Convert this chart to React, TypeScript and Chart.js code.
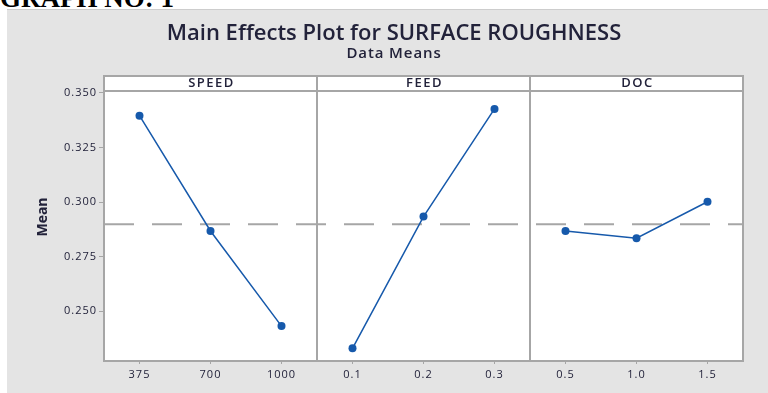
import React, { useEffect, useRef } from "react";
import { Chart, registerables } from "chart.js";

Chart.register(...registerables);

const PAGE_HEADING = "GRAPH NO: 1";
const TITLE = "Main Effects Plot for SURFACE ROUGHNESS";
const SUBTITLE = "Data Means";
const Y_TITLE = "Mean";
const FACTORS = ["SPEED", "FEED", "DOC"];
const SPEED_LEVELS = ["375", "700", "1000"];
const FEED_LEVELS = ["0.1", "0.2", "0.3"];
const DOC_LEVELS = ["0.5", "1.0", "1.5"];
const SPEED_MEANS = [0.3396, 0.2867, 0.2431];
const FEED_MEANS = [0.2329, 0.2933, 0.3427];
const DOC_MEANS = [0.2867, 0.2834, 0.3001];
const Y_TICKS = [0.25, 0.275, 0.3, 0.325, 0.35];
const Y_MIN = 0.2271;
const Y_MAX = 0.3509;

const LEVEL_GROUPS = [SPEED_LEVELS, FEED_LEVELS, DOC_LEVELS];
const MEAN_GROUPS = [SPEED_MEANS, FEED_MEANS, DOC_MEANS];
const X_LABELS = LEVEL_GROUPS.flat();
const ALL_MEANS = MEAN_GROUPS.flat();
const GRAND_MEAN = ALL_MEANS.reduce((a, b) => a + b, 0) / ALL_MEANS.length;

const BLUE = "#1659ab";
const FRAME = "#a6a6a6";
const TEXT = "#22223a";
const FONT = "'Open Sans', 'DejaVu Sans', sans-serif";

const panelPlugin = {
  id: "panels",
  beforeDraw(chart: any) {
    const { ctx, chartArea } = chart;
    const { left, right, top, bottom } = chartArea;
    ctx.fillStyle = "#ffffff";
    ctx.fillRect(left, top - 15, right - left, bottom - top + 15);
    (ctx as any).letterSpacing = "1px";
  },
  beforeDatasetsDraw(chart: any) {
    const { ctx, chartArea, scales } = chart;
    const { left, right, top, bottom } = chartArea;
    const headTop = top - 15;
    ctx.save();
    ctx.strokeStyle = FRAME;
    ctx.lineWidth = 2;
    ctx.strokeRect(left, headTop, right - left, bottom - headTop);
    ctx.beginPath();
    ctx.moveTo(left, top);
    ctx.lineTo(right, top);
    for (let g = 1; g < LEVEL_GROUPS.length; g++) {
      const x = Math.round(scales.x.getPixelForValue(g * 3 - 0.5));
      ctx.moveTo(x, headTop);
      ctx.lineTo(x, bottom);
    }
    ctx.stroke();
    ctx.restore();
  },
  afterDraw(chart: any) {
    const { ctx, chartArea, scales } = chart;
    const { top } = chartArea;
    ctx.save();
    ctx.fillStyle = TEXT;
    ctx.textAlign = "center";
    ctx.textBaseline = "middle";
    (ctx as any).letterSpacing = "0px";
    ctx.font = `600 22px ${FONT}`;
    ctx.fillText(TITLE, 387, 24);
    ctx.font = `600 15px ${FONT}`;
    (ctx as any).letterSpacing = "0.9px";
    ctx.fillText(SUBTITLE, 387, 44);
    ctx.font = `600 13px ${FONT}`;
    (ctx as any).letterSpacing = "1.5px";
    FACTORS.forEach((f, g) => {
      const x0 = scales.x.getPixelForValue(g * 3 - 0.5);
      const x1 = scales.x.getPixelForValue(g * 3 + 2.5);
      ctx.fillText(f, (x0 + x1) / 2 + 1, top - 7.5);
    });
    (ctx as any).letterSpacing = "0px";
    ctx.translate(36, 207);
    ctx.rotate(-Math.PI / 2);
    ctx.font = `bold 14px ${FONT}`;
    ctx.fillText(Y_TITLE, 0, 0);
    ctx.restore();
  },
};

export default function App() {
  const ref = useRef<HTMLCanvasElement>(null);
  useEffect(() => {
    if (!ref.current) return;
    const datasets: any[] = MEAN_GROUPS.map((vals, g) => ({
      label: FACTORS[g],
      data: vals.map((v, i) => ({ x: g * 3 + i, y: v })),
      borderColor: BLUE,
      backgroundColor: BLUE,
      borderWidth: 1.5,
      pointRadius: 4,
      pointStyle: "circle",
      pointBorderWidth: 0,
      order: 1,
    }));
    datasets.push({
      label: "Mean",
      data: [
        { x: -0.5, y: GRAND_MEAN },
        { x: X_LABELS.length - 0.5, y: GRAND_MEAN },
      ],
      borderColor: FRAME,
      borderWidth: 2,
      borderDash: [30, 18],
      pointRadius: 0,
      order: 2,
    });
    const chart = new Chart(ref.current, {
      type: "line",
      data: { datasets },
      options: {
        animation: false,
        responsive: false,
        layout: { padding: { left: 0, right: 25, top: 81, bottom: 0 } },
        plugins: {
          legend: { display: false },
          tooltip: { enabled: false },
          title: { display: false },
        },
        scales: {
          x: {
            type: "linear",
            min: -0.5,
            max: X_LABELS.length - 0.5,
            afterBuildTicks: (scale: any) => {
              scale.ticks = X_LABELS.map((_, i) => ({ value: i }));
            },
            afterFit: (scale: any) => {
              scale.height = 32;
            },
            ticks: {
              autoSkip: false,
              maxRotation: 0,
              padding: 4,
              color: TEXT,
              font: { family: FONT, size: 11 },
              callback: (_v: any, i: number) => X_LABELS[i],
            },
            grid: { drawOnChartArea: false, drawTicks: true, tickLength: 3, color: FRAME, lineWidth: 1 },
            border: { display: false },
          },
          y: {
            type: "linear",
            min: Y_MIN,
            max: Y_MAX,
            afterBuildTicks: (scale: any) => {
              scale.ticks = Y_TICKS.map((v) => ({ value: v }));
            },
            afterFit: (scale: any) => {
              scale.width = 97;
            },
            ticks: {
              padding: 2,
              color: TEXT,
              font: { family: FONT, size: 11 },
              callback: (v: any) => Number(v).toFixed(3),
            },
            grid: { drawOnChartArea: false, drawTicks: true, tickLength: 5, color: FRAME, lineWidth: 1 },
            border: { display: false },
          },
        },
      },
      plugins: [panelPlugin],
    });
    return () => chart.destroy();
  }, []);

  return (
    <div style={{ position: "absolute", left: 0, top: 0, width: 768, height: 393, background: "#ffffff", overflow: "hidden" }}>
      <div
        style={{
          position: "absolute",
          left: 0,
          top: -15,
          fontFamily: "'Liberation Serif', 'Times New Roman', serif",
          fontWeight: "bold",
          fontSize: 27,
          lineHeight: "27px",
          color: "#000",
          whiteSpace: "nowrap",
        }}
      >
        {PAGE_HEADING}
      </div>
      <div
        style={{
          position: "absolute",
          left: 7,
          top: 9,
          width: 761,
          height: 384,
          background: "#e4e4e4",
          borderTop: "1px solid #cdcdcd",
          boxSizing: "border-box",
        }}
      >
        <canvas ref={ref} width={761} height={383} style={{ display: "block", width: 761, height: 383 }} />
      </div>
    </div>
  );
}
